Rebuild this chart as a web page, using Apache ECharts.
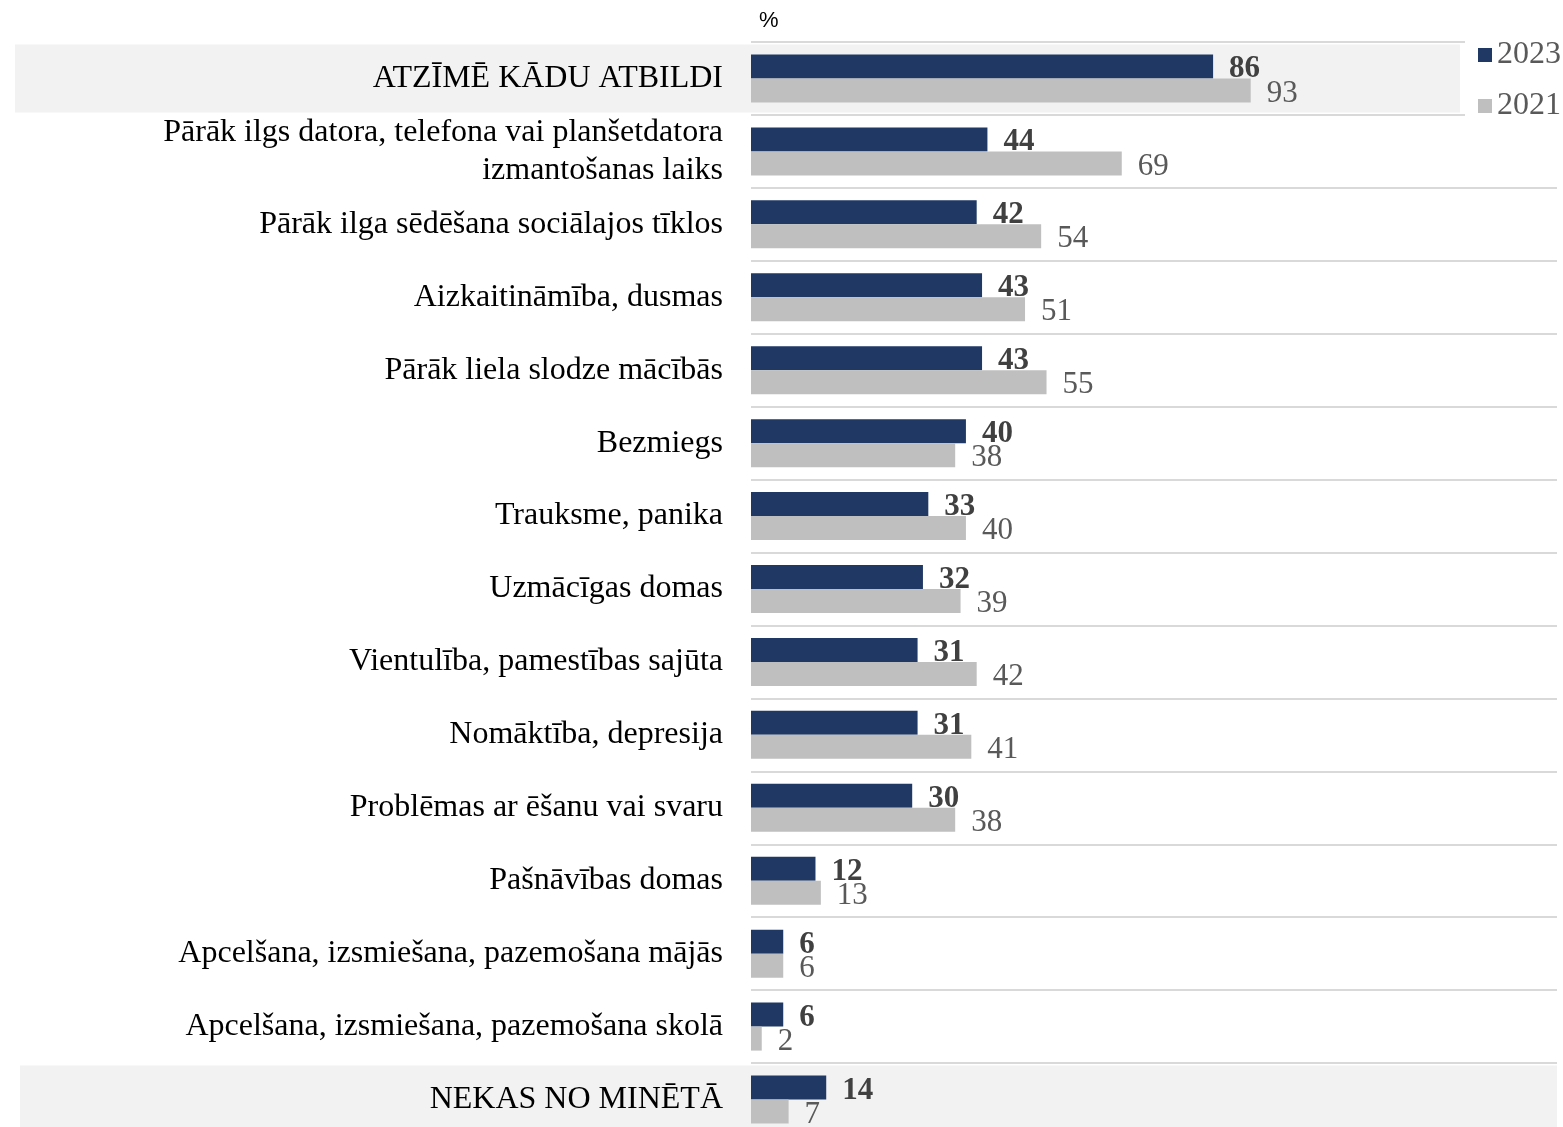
<!DOCTYPE html>
<html>
<head>
<meta charset="utf-8">
<script src="https://cdn.jsdelivr.net/npm/echarts@6/dist/echarts.min.js"></script>
<style>
html,body{margin:0;padding:0;background:#fff;overflow:hidden;}
#main{width:1563px;height:1145px;}
</style>
</head>
<body>
<div id="main"></div>
<script>
const categories = [
  'ATZĪMĒ KĀDU ATBILDI',
  'Pārāk ilgs datora, telefona vai planšetdatora\nizmantošanas laiks',
  'Pārāk ilga sēdēšana sociālajos tīklos',
  'Aizkaitināmība, dusmas',
  'Pārāk liela slodze mācībās',
  'Bezmiegs',
  'Trauksme, panika',
  'Uzmācīgas domas',
  'Vientulība, pamestības sajūta',
  'Nomāktība, depresija',
  'Problēmas ar ēšanu vai svaru',
  'Pašnāvības domas',
  'Apcelšana, izsmiešana, pazemošana mājās',
  'Apcelšana, izsmiešana, pazemošana skolā',
  'NEKAS NO MINĒTĀ'
];
const values2023 = [86, 44, 42, 43, 43, 40, 33, 32, 31, 31, 30, 12, 6, 6, 14];
const values2021 = [93, 69, 54, 51, 55, 38, 40, 39, 42, 41, 38, 13, 6, 2, 7];
const seriesNames = ['2023', '2021'];
const highlightRows = [0, 14];

const chart = echarts.init(document.getElementById('main'));
const serif = '"Liberation Serif", "Times New Roman", serif';

const option = {
  animation: false,
  backgroundColor: '#fff',
  title: {
    text: '%',
    left: 754,
    top: 5,
    textStyle: { fontSize: 22, fontWeight: 'normal', color: '#000', fontFamily: '"Liberation Sans", Arial, sans-serif' }
  },
  legend: {
    data: seriesNames,
    orient: 'vertical',
    right: 0,
    top: 36,
    itemWidth: 14,
    itemHeight: 14,
    itemGap: 19,
    icon: 'rect',
    backgroundColor: '#fff',
    padding: [3, 2, 4, 13],
    textStyle: { fontSize: 32, color: '#595959', fontFamily: serif }
  },
  grid: { left: 751, right: 6, top: 42, height: 1094, containLabel: false },
  xAxis: {
    type: 'value', min: 0, max: 150,
    show: false
  },
  yAxis: {
    type: 'category',
    inverse: true,
    data: categories,
    axisLine: { show: false },
    axisTick: { show: false },
    axisLabel: {
      margin: 28,
      fontSize: 32,
      lineHeight: 38,
      padding: [3, 0, 0, 0],
      color: '#000',
      fontFamily: serif
    },
    splitLine: { show: true, lineStyle: { color: '#d9d9d9', width: 2 } }
  },
  series: [
    {
      name: seriesNames[0],
      type: 'bar',
      data: values2023,
      barWidth: 24,
      barGap: '0%',
      itemStyle: { color: '#203864' },
      label: {
        show: true, position: 'right', distance: 16, offset: [0, 3],
        fontSize: 31, fontWeight: 'bold', color: '#404040', fontFamily: serif
      },
      z: 3
    },
    {
      name: seriesNames[1],
      type: 'bar',
      data: values2021,
      barWidth: 24,
      barGap: '0%',
      itemStyle: { color: '#bfbfbf' },
      label: {
        show: true, position: 'right', distance: 16, offset: [0, 3],
        fontSize: 31, color: '#595959', fontFamily: serif
      },
      z: 3
    }
  ]
};
chart.setOption(option);

// background bands for highlighted rows, positioned via the axis scale
const bandHalf = 34;
const graphics = highlightRows.map(function (idx) {
  const cy = chart.convertToPixel({ yAxisIndex: 0 }, idx);
  const isFirst = idx === 0;
  const x0 = isFirst ? 15 : 20;
  const x1 = isFirst ? 1460 : 1557;
  return {
    type: 'rect',
    z: -10,
    silent: true,
    shape: { x: x0, y: cy - bandHalf, width: x1 - x0, height: bandHalf * 2 + (isFirst ? 0 : 6) },
    style: { fill: '#f2f2f2' }
  };
});
chart.setOption({ graphic: graphics });
</script>
</body>
</html>
